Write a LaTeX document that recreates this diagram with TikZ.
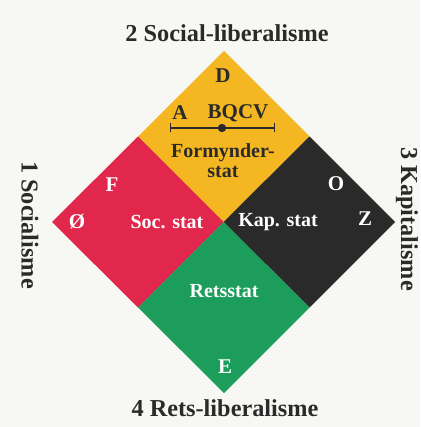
\documentclass[tikz,border=0pt]{standalone}
\usepackage{fontspec}
\setmainfont{Liberation Serif}
\usetikzlibrary{arrows.meta,calc}
\definecolor{bgc}{HTML}{F7F7F3}
\definecolor{ylw}{HTML}{F4B722}
\definecolor{rd}{HTML}{E2274D}
\definecolor{blk}{HTML}{2B2A2A}
\definecolor{grn}{HTML}{1C9D5C}
\definecolor{ink}{HTML}{2A2A2A}
\tikzset{
  outer/.style={font=\fontsize{24.3}{24}\selectfont\bfseries, text=ink, inner sep=0pt},
  inner/.style={font=\fontsize{20}{20}\selectfont\bfseries, text=white, inner sep=0pt},
  letter/.style={font=\fontsize{21}{21}\selectfont\bfseries, text=white, inner sep=0pt},
  dark/.style={text=ink}
}
\begin{document}
\begin{tikzpicture}[x=1pt,y=-1pt]
\useasboundingbox (0,0) rectangle (420,427);
\fill[bgc] (0,0) rectangle (420,427);
% diamond corners
\coordinate (T) at (224,51);
\coordinate (L) at (52,222);
\coordinate (R) at (395,222);
\coordinate (B) at (224,393);
\coordinate (C) at (223.5,222);
\coordinate (TL) at ($(T)!0.5!(L)$);
\coordinate (TR) at ($(T)!0.5!(R)$);
\coordinate (BL) at ($(B)!0.5!(L)$);
\coordinate (BR) at ($(B)!0.5!(R)$);
\fill[ylw] (T) -- (TR) -- (C) -- (TL) -- cycle;
\fill[rd] (TL) -- (C) -- (BL) -- (L) -- cycle;
\fill[blk] (TR) -- (R) -- (BR) -- (C) -- cycle;
\fill[grn] (C) -- (BR) -- (B) -- (BL) -- cycle;
% outer labels
\node[outer, anchor=base] (top) at (227,42) {2 Social-liberalisme};
\node[outer, anchor=base] (bot) at (225,416) {4 Rets-liberalisme};
\node[outer, rotate=-90] (left) at (30,225) {1 Socialisme};
\node[outer, rotate=-90] (right) at (407,219) {3 Kapitalisme};
% yellow
\node[letter, dark] (D) at (223,76) {D};
\node[letter, dark] (A) at (180,113) {A};
\node[letter, dark] (BQCV) at (238,113) {BQCV};
\coordinate (l1) at (170,128);
\coordinate (l2) at (275,128);
\draw[ink, line width=1.3pt, {Bar[width=9pt]}-{Bar[width=9pt]}] (l1) -- (l2);
\fill[ink] (222,128) circle (4.2pt);
\node[inner, dark, align=center] (form) at (223,161) {\fontsize{20}{17}\selectfont Formynder-\\stat};
% red
\node[letter] (F) at (112,185) {F};
\node[letter] (O1) at (77,222) {Ø};
\node[inner] (soc) at (167,222) {Soc. stat};
% black
\node[inner] (kap) at (278,222) {Kap. stat};
\node[letter] (O) at (336,184) {O};
\node[letter] (Z) at (365,219) {Z};
% green
\node[inner] (rets) at (224,291) {Retsstat};
\node[letter] (E) at (225,367) {E};
\end{tikzpicture}
\end{document}
